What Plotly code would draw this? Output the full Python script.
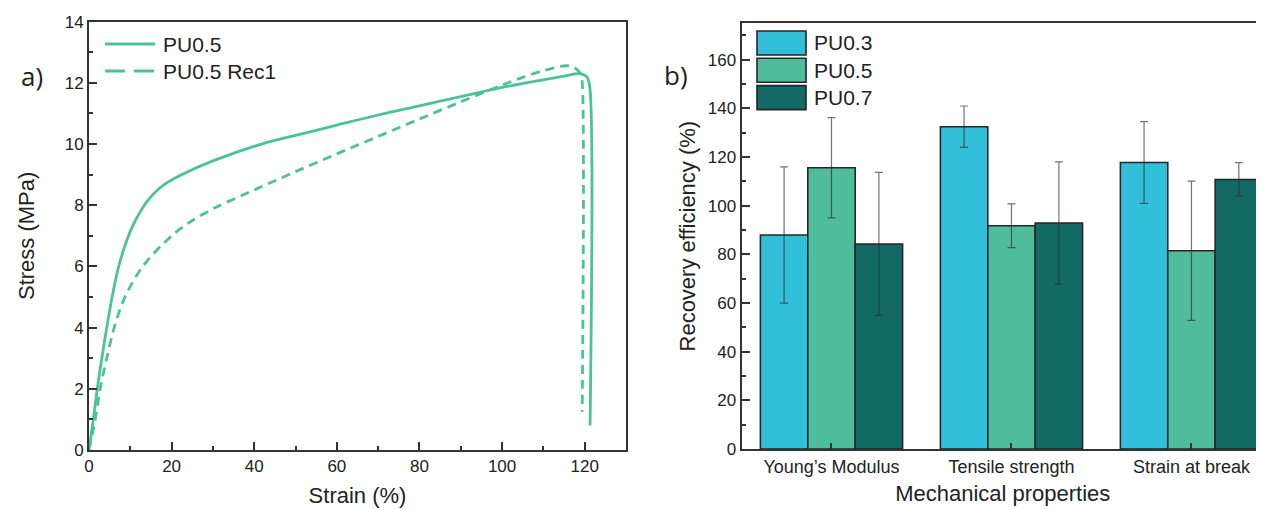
import plotly.graph_objects as go

# ---------------- data: panel a) stress-strain curves ----------------
strain_pu05 = [0, 1.05, 2.0, 3.1, 4.3, 5.6, 7.0, 8.5, 10.5, 12.7, 14.5, 17.0, 19.0, 22.4, 30,
               41.8, 52, 60, 70, 80, 90, 100, 110, 115, 118.7, 120.5, 121.2, 121.3]
stress_pu05 = [0, 1.0, 2.0, 3.0, 4.0, 5.0, 5.9, 6.6, 7.3, 7.85, 8.2, 8.55, 8.75, 9.0, 9.45,
               10.0, 10.35, 10.62, 10.95, 11.25, 11.55, 11.85, 12.1, 12.22, 12.3, 12.2, 11.9, 0.8]

strain_rec1 = [0, 1.5, 2.7, 4.3, 6.1, 8.7, 13.0, 20.0, 25.0, 31.0, 40, 50, 60, 70, 80, 90,
               100, 105, 110, 115.5, 117.5, 119.0, 119.4, 119.4]
stress_rec1 = [0, 1.0, 2.0, 3.0, 4.0, 5.0, 6.0, 7.0, 7.5, 7.95, 8.5, 9.1, 9.68, 10.25, 10.82, 11.38,
               11.93, 12.18, 12.4, 12.56, 12.5, 12.3, 12.0, 1.25]

curve_names = ["PU0.5", "PU0.5 Rec1"]
curve_dashes = ["solid", "9px,6px"]
legend_dashes = ["solid", "20px,9px"]
line_color = "#4cc29a"

# ---------------- data: panel b) recovery efficiency ----------------
properties = ["Young\u2019s Modulus", "Tensile strength", "Strain at break"]
series_names = ["PU0.3", "PU0.5", "PU0.7"]
eff_pu03 = [88.0, 132.5, 117.8]
err_pu03 = [28.0, 8.5, 16.8]
eff_pu05 = [115.6, 91.8, 81.5]
err_pu05 = [20.6, 9.0, 28.6]
eff_pu07 = [84.3, 92.9, 110.8]
err_pu07 = [29.4, 25.1, 6.9]
bar_colors = ["#32bfda", "#4fbd9b", "#126966"]

# page body has an 8px margin: size the figure so it fills the 1264x510 window
OX, OY = 8, 8
W, H = 1264 - OX, 510 - OY
FONT = "Liberation Sans, Arial, sans-serif"
AX = "#333333"
TXT = "#222222"


def px(x):
    return (x - OX) / W


def py(y):
    return 1 - (y - OY) / H


fig = go.Figure()

for xs, ys, name, dash in zip([strain_pu05, strain_rec1], [stress_pu05, stress_rec1],
                              curve_names, curve_dashes):
    fig.add_trace(go.Scatter(
        x=xs, y=ys, mode="lines", name=name, showlegend=False,
        line=dict(color=line_color, width=2.8, dash=dash, shape="spline", smoothing=0.9),
        xaxis="x", yaxis="y"))

for name, vals, errs, col in zip(series_names, [eff_pu03, eff_pu05, eff_pu07],
                                 [err_pu03, err_pu05, err_pu07], bar_colors):
    fig.add_trace(go.Bar(
        x=properties, y=vals, name=name, showlegend=False,
        marker=dict(color=col, line=dict(color="#262626", width=1.6)),
        error_y=dict(type="data", array=errs, visible=True,
                     color="rgba(40,40,40,0.65)", thickness=1.2, width=4),
        xaxis="x2", yaxis="y2"))


def axis_common(size):
    return dict(showline=True, linecolor=AX, linewidth=2, mirror=True,
                ticks="inside", ticklen=8, tickwidth=1.5, tickcolor=AX,
                showgrid=False, zeroline=False, automargin=False,
                tickfont=dict(family=FONT, size=size, color=TXT))


title_font = dict(family=FONT, size=22, color=TXT)

xa = axis_common(17)
xa.update(domain=[px(89), px(626)], range=[0, 130], tick0=0, dtick=20, anchor="y",
          minor=dict(dtick=10, ticks="inside", ticklen=4, tickwidth=1.5, tickcolor=AX),
          title=dict(text="Strain (%)", font=title_font, standoff=12))
ya = axis_common(17)
ya.update(domain=[py(450), py(21.7)], range=[0, 14], tick0=0, dtick=2, anchor="x",
          minor=dict(dtick=1, ticks="inside", ticklen=4, tickwidth=1.5, tickcolor=AX),
          title=dict(text="Stress (MPa)", font=title_font, standoff=24))

xa2 = axis_common(18)
xa2.update(domain=[px(741.5), 1.0], range=[-0.5, 2.403], type="category", anchor="y2",
           ticklen=6,
           title=dict(text="Mechanical properties", font=title_font, standoff=10))
ya2 = axis_common(17)
ya2.update(domain=[py(449), py(23.3)], range=[0, 175], tick0=0, dtick=20, anchor="x2",
           mirror=False,
           minor=dict(dtick=10, ticks="inside", ticklen=4, tickwidth=1.5, tickcolor=AX),
           title=dict(text="Recovery efficiency (%)", font=title_font, standoff=6))

fig.update_layout(
    width=W, height=H, margin=dict(l=0, r=0, t=0, b=0, autoexpand=False),
    paper_bgcolor="white", plot_bgcolor="white",
    barmode="group", bargap=0.21, bargroupgap=0,
    xaxis=xa, yaxis=ya, xaxis2=xa2, yaxis2=ya2,
    font=dict(family=FONT, color=TXT),
    showlegend=False,
)

# panel labels
for label, lx, ly in [("a)", 32, 76), ("b)", 676, 75)]:
    fig.add_annotation(text=label, x=px(lx), y=py(ly), xref="paper", yref="paper",
                       xanchor="center", yanchor="middle", showarrow=False,
                       font=dict(family="Open Sans", size=26, color=TXT))

# legend of panel a)
for i, (name, dash) in enumerate(zip(curve_names, legend_dashes)):
    yc = 44 + 27 * i
    fig.add_shape(type="line", xref="paper", yref="paper",
                  x0=px(105), x1=px(155), y0=py(yc), y1=py(yc),
                  line=dict(color=line_color, width=2.8, dash=dash))
    fig.add_annotation(text=name, x=px(161), y=py(yc), xref="paper", yref="paper",
                       xanchor="left", yanchor="middle", showarrow=False,
                       font=dict(family=FONT, size=21, color=TXT))

# legend of panel b)
for i, (name, col) in enumerate(zip(series_names, bar_colors)):
    top = 31 + 27.3 * i
    fig.add_shape(type="rect", xref="paper", yref="paper",
                  x0=px(757), x1=px(806), y0=py(top + 24), y1=py(top),
                  fillcolor=col, line=dict(color="#262626", width=1.6))
    fig.add_annotation(text=name, x=px(812), y=py(top + 12), xref="paper", yref="paper",
                       xanchor="left", yanchor="middle", showarrow=False,
                       font=dict(family=FONT, size=21, color=TXT))

fig.write_html("out.html")
